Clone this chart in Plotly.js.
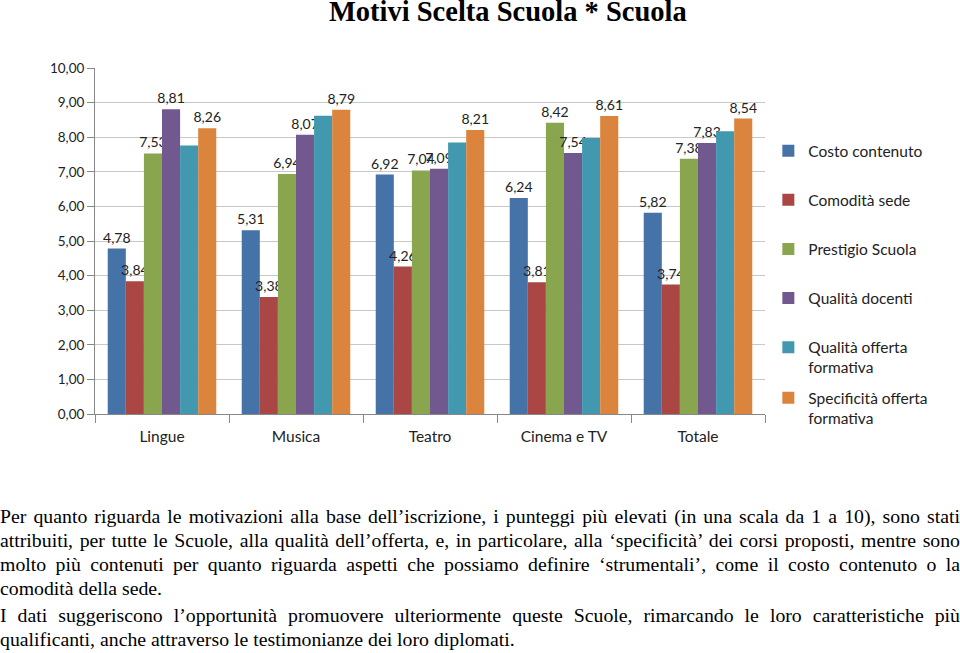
<!DOCTYPE html>
<html>
<head>
<meta charset="utf-8">
<script src="https://cdn.plot.ly/plotly-3.0.1.min.js"></script>
<style>
  html, body { margin: 0; padding: 0; background: #fff; width: 960px; height: 653px; overflow: hidden; }
  #chart { width: 960px; height: 462px; }
  #text { position: absolute; left: 0; top: 504px; width: 960px; font-family: "Liberation Serif", "Times New Roman", serif; font-size: 19.8px; color: #000; }
  .ln { height: 24px; line-height: 24px; white-space: nowrap; text-align: justify; text-align-last: justify; }
  .last { text-align-last: left; }
  .gap { height: 3px; }
</style>
</head>
<body>
<div id="chart"></div>
<div id="text">
  <div class="ln">Per quanto riguarda le motivazioni alla base dell’iscrizione, i punteggi più elevati (in una scala da 1 a 10), sono stati</div>
  <div class="ln">attribuiti, per tutte le Scuole, alla qualità dell’offerta, e, in particolare, alla ‘specificità’ dei corsi proposti, mentre sono</div>
  <div class="ln">molto più contenuti per quanto riguarda aspetti che possiamo definire ‘strumentali’, come il costo contenuto o la</div>
  <div class="ln last">comodità della sede.</div>
  <div class="gap"></div>
  <div class="ln">I dati suggeriscono l’opportunità promuovere ulteriormente queste Scuole, rimarcando le loro caratteristiche più</div>
  <div class="ln last">qualificanti, anche attraverso le testimonianze dei loro diplomati.</div>
</div>
<script>
const categories = ["Lingue", "Musica", "Teatro", "Cinema e TV", "Totale"];
const seriesNames = ["Costo contenuto", "Comodità sede", "Prestigio Scuola", "Qualità docenti", "Qualità offerta<br>formativa", "Specificità offerta<br>formativa"];
const costoContenuto = [4.78, 5.31, 6.92, 6.24, 5.82];
const comoditaSede = [3.84, 3.38, 4.26, 3.81, 3.74];
const prestigioScuola = [7.53, 6.94, 7.04, 8.42, 7.38];
const qualitaDocenti = [8.81, 8.07, 7.09, 7.54, 7.83];
const qualitaOfferta = [7.76, 8.62, 7.85, 7.98, 8.17];
const specificitaOfferta = [8.26, 8.79, 8.21, 8.61, 8.54];
const showLabels = [true, true, true, true, false, true];
const colors = ["#4572A7", "#AA4643", "#89A54E", "#71588F", "#4198AF", "#DB843D"];

const allSeries = [costoContenuto, comoditaSede, prestigioScuola, qualitaDocenti, qualitaOfferta, specificitaOfferta];
const fmt = v => v.toFixed(2).replace(".", ",");
const traces = allSeries.map((vals, i) => ({
  type: "bar",
  name: seriesNames[i],
  x: categories,
  y: vals,
  legend: i === 5 ? "legend2" : "legend",
  legendgroup: "g" + i,
  marker: { color: colors[i], line: { width: 0 } },
  text: showLabels[i] ? vals.map(fmt) : vals.map(() => ""),
  textposition: "outside",
  constraintext: "none",
  cliponaxis: false,
  textfont: { family: "Lato, 'Open Sans', sans-serif", size: 14, color: "#222" },
  hoverinfo: "name+y"
}));

const legendCommon = {
  xanchor: "left", yanchor: "top",
  font: { size: 15.5, color: "#222" },
  tracegroupgap: 26,
  itemwidth: 30,
  valign: "top",
  bgcolor: "rgba(0,0,0,0)"
};

const layout = {
  width: 960, height: 462,
  margin: { l: 95, r: 195, t: 68, b: 48 },
  paper_bgcolor: "#fff", plot_bgcolor: "#fff",
  separators: ",.",
  title: {
    text: "<b>Motivi Scelta Scuola * Scuola</b>",
    font: { family: "Liberation Serif, 'Times New Roman', serif", size: 28.5, color: "#000" },
    x: 0.529, xref: "container", xanchor: "center",
    y: 0.976, yref: "container", yanchor: "middle"
  },
  barmode: "group",
  bargap: 0.19,
  bargroupgap: 0,
  font: { family: "Lato, 'Open Sans', sans-serif", color: "#222" },
  xaxis: {
    showline: true, linecolor: "#888", linewidth: 1,
    ticks: "outside", tickson: "boundaries", ticklen: 8, tickcolor: "#888",
    ticklabelstandoff: 8,
    tickfont: { size: 15.5, color: "#222" },
    showgrid: false
  },
  yaxis: {
    range: [0, 10], dtick: 1, tickformat: ".2f",
    showline: true, linecolor: "#888", linewidth: 1,
    ticks: "outside", ticklen: 7, tickcolor: "#888",
    showgrid: true, gridcolor: "#c8c8c8", gridwidth: 1,
    zeroline: false,
    tickfont: { size: 13.5, color: "#222" }
  },
  legend: Object.assign({ x: 1.005, y: 0.809 }, legendCommon),
  legend2: Object.assign({ x: 1.005, y: 0.095 }, legendCommon),
  showlegend: true
};

Plotly.newPlot("chart", traces, layout, { displayModeBar: false, staticPlot: true });
</script>
</body>
</html>
